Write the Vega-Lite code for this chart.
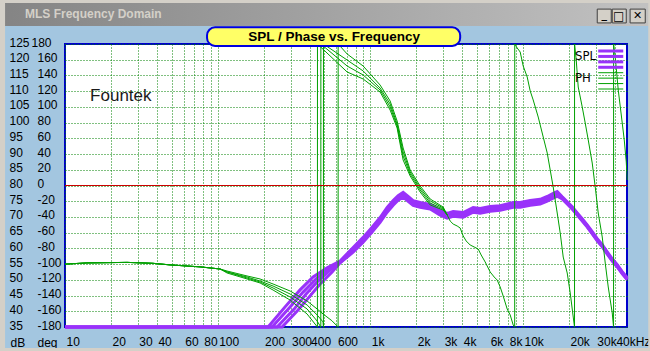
{
 "$schema": "https://vega.github.io/schema/vega-lite/v6.json",
 "width": 562,
 "height": 283,
 "autosize": {"type": "none"},
 "padding": {"left": 65, "top": 44, "right": 23, "bottom": 24},
 "background": "#A3C6E0",
 "config": {
  "view": {"fill": "#FFFFFF", "stroke": "#0000CC", "strokeWidth": 2},
  "axis": {"labelFont": "Liberation Sans", "labelFontSize": 12, "labelColor": "#000000", "titleFont": "Liberation Sans", "titleFontSize": 12, "titleFontWeight": "normal", "titleColor": "#000000", "ticks": false, "domain": false},
  "text": {"font": "Liberation Sans"}
 },
 "datasets": {
  "spl": [
   {"f": 10, "S1": 35, "S2": 35, "S3": 35, "S4": 35},
   {"f": 213.9, "S1": 35}, {"f": 227.2, "S2": 35}, {"f": 245.1, "S3": 35}, {"f": 264.2, "S4": 35},
   {"f": 276.5, "S1": 41.4}, {"f": 298.2, "S2": 41.4}, {"f": 316.8, "S3": 40.7}, {"f": 336.4, "S4": 40.4},
   {"f": 346.7, "S1": 46.8}, {"f": 362.7, "S2": 46.1}, {"f": 379.6, "S3": 45.5}, {"f": 403.2, "S4": 44.9},
   {"f": 421.9, "S1": 50.9}, {"f": 441.5, "S2": 50.3}, {"f": 454.9, "S3": 49.6}, {"f": 468.8, "S4": 48.7},
   {"f": 521.1, "S1": 53.8}, {"f": 529, "S2": 53.4}, {"f": 545.2, "S3": 53.1}, {"f": 561.9, "S4": 52.5},
   {"f": 634, "S1": 56.0, "S2": 55.7, "S3": 55.5, "S4": 55.4},
   {"f": 771.5, "S1": 60.3, "S2": 59.8, "S3": 59.3, "S4": 58.8},
   {"f": 897, "S1": 63.5, "S2": 63.0, "S3": 62.5, "S4": 62.0},
   {"f": 1027, "S1": 66.7, "S2": 66.2, "S3": 65.7, "S4": 65.2},
   {"f": 1159, "S1": 69.8, "S2": 69.3, "S3": 68.8, "S4": 68.3},
   {"f": 1289, "S1": 73.0, "S2": 72.5, "S3": 72.0, "S4": 71.5},
   {"f": 1411, "S1": 75.2, "S2": 74.7, "S3": 74.2, "S4": 73.7},
   {"f": 1521, "S1": 76.8, "S2": 76.3, "S3": 75.8, "S4": 75.3},
   {"f": 1640, "S1": 77.8, "S2": 77.3, "S3": 76.8, "S4": 76.3},
   {"f": 1769, "S1": 76.5, "S2": 76.0, "S3": 75.5, "S4": 75.0},
   {"f": 1908, "S1": 75.2, "S2": 74.7, "S3": 74.2, "S4": 73.7},
   {"f": 2120, "S1": 74.6, "S2": 74.1, "S3": 73.6, "S4": 73.1},
   {"f": 2466, "S1": 74.0, "S2": 73.5, "S3": 73.0, "S4": 72.5},
   {"f": 2867, "S1": 72.1, "S2": 71.6, "S3": 71.1, "S4": 70.6},
   {"f": 3187, "S1": 71.1, "S2": 70.6, "S3": 70.1, "S4": 69.6},
   {"f": 3488, "S1": 71.7, "S2": 71.2, "S3": 70.7, "S4": 70.2},
   {"f": 4057, "S1": 71.4, "S2": 70.9, "S3": 70.4, "S4": 69.9},
   {"f": 4718, "S1": 73.0, "S2": 72.5, "S3": 72.0, "S4": 71.5},
   {"f": 5242, "S1": 72.7, "S2": 72.2, "S3": 71.7, "S4": 71.2},
   {"f": 6095, "S1": 73.3, "S2": 72.8, "S3": 72.3, "S4": 71.8},
   {"f": 7089, "S1": 73.6, "S2": 73.1, "S3": 72.6, "S4": 72.1},
   {"f": 8627, "S1": 74.6, "S2": 74.1, "S3": 73.6, "S4": 73.1},
   {"f": 9587, "S1": 74.6, "S2": 74.1, "S3": 73.6, "S4": 73.1},
   {"f": 11150, "S1": 75.2, "S2": 74.7, "S3": 74.2, "S4": 73.7},
   {"f": 12960, "S1": 75.6, "S2": 75.1, "S3": 74.6, "S4": 74.1},
   {"f": 14410, "S1": 76.5, "S2": 76.0, "S3": 75.5, "S4": 75.0},
   {"f": 15770, "S1": 77.5, "S2": 77.0, "S3": 76.5, "S4": 76.0},
   {"f": 16755, "S1": 78.1, "S2": 77.6, "S3": 77.1, "S4": 76.6},
   {"f": 18070, "S1": 76.4, "S2": 76.1, "S3": 75.9, "S4": 75.7},
   {"f": 19480, "S1": 74.8, "S2": 74.5, "S3": 74.3, "S4": 74.1},
   {"f": 21010, "S1": 73.2, "S2": 72.9, "S3": 72.7, "S4": 72.5},
   {"f": 22660, "S1": 71.3, "S2": 71.0, "S3": 70.8, "S4": 70.6},
   {"f": 24430, "S1": 69.4, "S2": 69.1, "S3": 68.9, "S4": 68.7},
   {"f": 26340, "S1": 67.5, "S2": 67.2, "S3": 67.0, "S4": 66.8},
   {"f": 28410, "S1": 65.3, "S2": 65.0, "S3": 64.8, "S4": 64.6},
   {"f": 30640, "S1": 63.1, "S2": 62.8, "S3": 62.6, "S4": 62.4},
   {"f": 33040, "S1": 61.2, "S2": 60.9, "S3": 60.7, "S4": 60.5},
   {"f": 35630, "S1": 58.9, "S2": 58.6, "S3": 58.4, "S4": 58.2},
   {"f": 38420, "S1": 56.7, "S2": 56.4, "S3": 56.2, "S4": 56.0},
   {"f": 41430, "S1": 54.8, "S2": 54.5, "S3": 54.3, "S4": 54.1},
   {"f": 44680, "S1": 52.6, "S2": 52.3, "S3": 52.1, "S4": 51.9},
   {"f": 48180, "S1": 50.7, "S2": 50.4, "S3": 50.2, "S4": 50.0}
  ],
  "phase": [
   {"s": "A", "f": 10, "p": -100}, {"s": "A", "f": 13.9, "p": -98.5}, {"s": "A", "f": 25.5, "p": -97.8}, {"s": "A", "f": 37.7, "p": -99}, {"s": "A", "f": 48.8, "p": -101}, {"s": "A", "f": 76.7, "p": -103.5}, {"s": "A", "f": 103.7, "p": -106.2}, {"s": "A", "f": 115.2, "p": -108.8}, {"s": "A", "f": 155.8, "p": -115.1}, {"s": "A", "f": 189.6, "p": -118.9}, {"s": "A", "f": 230.7, "p": -125.3}, {"s": "A", "f": 298.2, "p": -134.2}, {"s": "A", "f": 385.3, "p": -146.9}, {"s": "A", "f": 448.2, "p": -157.1}, {"s": "A", "f": 490.6, "p": -163.5}, {"s": "A", "f": 560, "p": -172}, {"s": "A", "f": 615, "p": -180}, {"s": "A", "f": 615.5, "p": 180}, {"s": "A", "f": 704.7, "p": 167.3}, {"s": "A", "f": 897, "p": 152}, {"s": "A", "f": 1159, "p": 127.8}, {"s": "A", "f": 1348, "p": 107.5}, {"s": "A", "f": 1498, "p": 82}, {"s": "A", "f": 1640, "p": 47.7}, {"s": "A", "f": 1823, "p": 19.7}, {"s": "A", "f": 2120, "p": -0.6}, {"s": "A", "f": 2466, "p": -17.2}, {"s": "A", "f": 3000, "p": -27.4}, {"s": "A", "f": 3187, "p": -37.5},
   {"s": "B", "f": 10, "p": -100}, {"s": "B", "f": 13.9, "p": -98.5}, {"s": "B", "f": 25.5, "p": -97.8}, {"s": "B", "f": 37.7, "p": -99}, {"s": "B", "f": 48.8, "p": -101}, {"s": "B", "f": 76.7, "p": -103.5}, {"s": "B", "f": 103.7, "p": -106.2}, {"s": "B", "f": 115.2, "p": -110}, {"s": "B", "f": 155.8, "p": -116.4}, {"s": "B", "f": 189.6, "p": -121.5}, {"s": "B", "f": 230.7, "p": -127.9}, {"s": "B", "f": 298.2, "p": -138}, {"s": "B", "f": 385.3, "p": -152}, {"s": "B", "f": 448.2, "p": -164.7}, {"s": "B", "f": 490.6, "p": -173.6}, {"s": "B", "f": 492.9, "p": -180}, {"s": "B", "f": 493.3, "p": 180}, {"s": "B", "f": 704.7, "p": 159.6}, {"s": "B", "f": 897, "p": 145.7}, {"s": "B", "f": 1159, "p": 124}, {"s": "B", "f": 1348, "p": 103.7}, {"s": "B", "f": 1498, "p": 78.2}, {"s": "B", "f": 1640, "p": 42.6}, {"s": "B", "f": 1823, "p": 17.2}, {"s": "B", "f": 2120, "p": -3.2}, {"s": "B", "f": 2466, "p": -19.7}, {"s": "B", "f": 3000, "p": -28.6}, {"s": "B", "f": 3187, "p": -37.5},
   {"s": "C", "f": 10, "p": -100}, {"s": "C", "f": 13.9, "p": -98.5}, {"s": "C", "f": 25.5, "p": -97.8}, {"s": "C", "f": 37.7, "p": -99}, {"s": "C", "f": 48.8, "p": -101}, {"s": "C", "f": 76.7, "p": -103.5}, {"s": "C", "f": 103.7, "p": -106.2}, {"s": "C", "f": 115.2, "p": -110}, {"s": "C", "f": 155.8, "p": -117.7}, {"s": "C", "f": 189.6, "p": -122.8}, {"s": "C", "f": 230.7, "p": -130.4}, {"s": "C", "f": 298.2, "p": -141.8}, {"s": "C", "f": 385.3, "p": -157.1}, {"s": "C", "f": 448.2, "p": -172.4}, {"s": "C", "f": 473.8, "p": -180}, {"s": "C", "f": 474.2, "p": 180}, {"s": "C", "f": 704.7, "p": 152}, {"s": "C", "f": 897, "p": 140.6}, {"s": "C", "f": 1159, "p": 121.5}, {"s": "C", "f": 1348, "p": 99.9}, {"s": "C", "f": 1498, "p": 75.7}, {"s": "C", "f": 1640, "p": 37.5}, {"s": "C", "f": 1823, "p": 14.6}, {"s": "C", "f": 2120, "p": -5.7}, {"s": "C", "f": 2466, "p": -22.3}, {"s": "C", "f": 3000, "p": -29.9}, {"s": "C", "f": 3187, "p": -37.5},
   {"s": "D", "f": 10, "p": -100}, {"s": "D", "f": 13.9, "p": -98.5}, {"s": "D", "f": 25.5, "p": -97.8}, {"s": "D", "f": 37.7, "p": -99}, {"s": "D", "f": 48.8, "p": -101}, {"s": "D", "f": 76.7, "p": -103.5}, {"s": "D", "f": 103.7, "p": -106.2}, {"s": "D", "f": 115.2, "p": -111.3}, {"s": "D", "f": 155.8, "p": -118.9}, {"s": "D", "f": 189.6, "p": -124}, {"s": "D", "f": 230.7, "p": -133}, {"s": "D", "f": 298.2, "p": -145.7}, {"s": "D", "f": 385.3, "p": -163.5}, {"s": "D", "f": 450.2, "p": -180}, {"s": "D", "f": 450.6, "p": 180}, {"s": "D", "f": 704.7, "p": 144.4}, {"s": "D", "f": 897, "p": 135.5}, {"s": "D", "f": 1159, "p": 118.9}, {"s": "D", "f": 1348, "p": 96}, {"s": "D", "f": 1498, "p": 73.1}, {"s": "D", "f": 1640, "p": 32.4}, {"s": "D", "f": 1823, "p": 12.1}, {"s": "D", "f": 2120, "p": -8.3}, {"s": "D", "f": 2466, "p": -24.8}, {"s": "D", "f": 3000, "p": -31.2}, {"s": "D", "f": 3187, "p": -37.5},
   {"s": "E", "f": 3187, "p": -37.5}, {"s": "E", "f": 3334, "p": -45.2}, {"s": "E", "f": 3488, "p": -49}, {"s": "E", "f": 3706, "p": -51.5}, {"s": "E", "f": 3877, "p": -54.1}, {"s": "E", "f": 4057, "p": -64.2}, {"s": "E", "f": 4245, "p": -70.6}, {"s": "E", "f": 4508, "p": -75.7}, {"s": "E", "f": 4788, "p": -78.2}, {"s": "E", "f": 5087, "p": -80.8}, {"s": "E", "f": 5321, "p": -88.4}, {"s": "E", "f": 5653, "p": -97.3}, {"s": "E", "f": 6095, "p": -110}, {"s": "E", "f": 6477, "p": -116.4}, {"s": "E", "f": 6773, "p": -120.2}, {"s": "E", "f": 7089, "p": -129.1}, {"s": "E", "f": 7418, "p": -140.6}, {"s": "E", "f": 7877, "p": -157.1}, {"s": "E", "f": 8245, "p": -164.7}, {"s": "E", "f": 8627, "p": -177.5}, {"s": "E", "f": 8822, "p": -180}, {"s": "E", "f": 8829, "p": 180}, {"s": "E", "f": 9162, "p": 174.9}, {"s": "E", "f": 9587, "p": 169.8}, {"s": "E", "f": 10030, "p": 152}, {"s": "E", "f": 10655, "p": 138}, {"s": "E", "f": 11150, "p": 120.2}, {"s": "E", "f": 11664, "p": 108.8}, {"s": "E", "f": 12578, "p": 87.1}, {"s": "E", "f": 13565, "p": 61.7}, {"s": "E", "f": 14410, "p": 41.3}, {"s": "E", "f": 15075, "p": 19.7}, {"s": "E", "f": 15770, "p": -1.9}, {"s": "E", "f": 16755, "p": -35}, {"s": "E", "f": 17530, "p": -60.4}, {"s": "E", "f": 18340, "p": -91}, {"s": "E", "f": 19480, "p": -111.3}, {"s": "E", "f": 20390, "p": -136.8}, {"s": "E", "f": 21330, "p": -167.3}, {"s": "E", "f": 21750, "p": -180}, {"s": "E", "f": 21770, "p": 180}, {"s": "E", "f": 22320, "p": 159.6}, {"s": "E", "f": 23000, "p": 125.3}, {"s": "E", "f": 24430, "p": 99.9}, {"s": "E", "f": 25560, "p": 79.5}, {"s": "E", "f": 26750, "p": 57.9}, {"s": "E", "f": 28410, "p": 28.6}, {"s": "E", "f": 29730, "p": -1.9}, {"s": "E", "f": 31100, "p": -35}, {"s": "E", "f": 33040, "p": -65.5}, {"s": "E", "f": 34570, "p": -98.7}, {"s": "E", "f": 36170, "p": -129.1}, {"s": "E", "f": 38420, "p": -162.2}, {"s": "E", "f": 39190, "p": -180}, {"s": "E", "f": 39220, "p": 180}, {"s": "E", "f": 40200, "p": 163.5}, {"s": "E", "f": 42060, "p": 121.5}, {"s": "E", "f": 44680, "p": 79.5}, {"s": "E", "f": 46050, "p": 57.9}, {"s": "E", "f": 47470, "p": 29.9}, {"s": "E", "f": 48180, "p": 7}
  ],
  "leg": [
   {"s": "S1"}, {"s": "S2", "t": "SPL"}, {"s": "S3"}, {"s": "S4"},
   {"s": "P1"}, {"s": "P2", "t": "PH"}, {"s": "P3"}, {"s": "P4"}
  ]
 },
 "layer": [
  {
   "layer": [
    {
     "data": {"values": [{}]},
     "mark": {"type": "rect", "fill": "#D4D0C8"},
     "encoding": {"x": {"datum": 2}, "x2": {"datum": 100000}, "y": {"datum": 145, "axis": null, "scale": {"domain": [35, 125], "nice": false, "zero": false}}, "y2": {"datum": 137.9}}
    },
    {
     "data": {"values": [{}]},
     "mark": {"type": "rect", "fill": {"gradient": "linear", "x1": 0, "y1": 0, "x2": 1, "y2": 0, "stops": [{"offset": 0, "color": "#808080"}, {"offset": 1, "color": "#C4C4C4"}]}},
     "encoding": {"x": {"datum": 2}, "x2": {"datum": 100000}, "y": {"datum": 138.0, "axis": null}, "y2": {"datum": 130.7}}
    },
    {
     "data": {"values": [{}]},
     "mark": {"type": "rect", "fill": "#D4D0C8"},
     "encoding": {"x": {"datum": 2}, "x2": {"datum": 4.05}, "y": {"datum": 138.0, "axis": null}, "y2": {"datum": 20}}
    },
    {
     "data": {"values": [{}]},
     "mark": {"type": "rect", "fill": "#D4D0C8"},
     "encoding": {"x": {"datum": 66130}, "x2": {"datum": 100000}, "y": {"datum": 138.0, "axis": null}, "y2": {"datum": 20}}
    },
    {
     "data": {"values": [{}]},
     "mark": {"type": "rect", "fill": "#D4D0C8"},
     "encoding": {"x": {"datum": 2}, "x2": {"datum": 100000}, "y": {"datum": 28.3, "axis": null}, "y2": {"datum": 20}}
    },
    {
     "data": {"values": [{}]},
     "mark": {"type": "text", "align": "left", "baseline": "middle", "fontWeight": "bold", "fontSize": 12, "font": "Liberation Sans", "fill": "#D4D0C8"},
     "encoding": {"x": {"datum": 5.47}, "y": {"datum": 134.4, "axis": null}, "text": {"value": "MLS Frequency Domain"}}
    },
    {
     "data": {"values": [{}]},
     "mark": {"type": "rect", "fill": "#D4D0C8", "stroke": "#404040", "strokeWidth": 1},
     "encoding": {"x": {"datum": 30640}, "x2": {"datum": 37840}, "y": {"datum": 136.1, "axis": null}, "y2": {"datum": 131.7}}
    },
    {
     "data": {"values": [{}]},
     "mark": {"type": "rect", "fill": "#D4D0C8", "stroke": "#404040", "strokeWidth": 1},
     "encoding": {"x": {"datum": 38420}, "x2": {"datum": 47470}, "y": {"datum": 136.1, "axis": null}, "y2": {"datum": 131.7}}
    },
    {
     "data": {"values": [{}]},
     "mark": {"type": "rect", "fill": "#D4D0C8", "stroke": "#404040", "strokeWidth": 1},
     "encoding": {"x": {"datum": 50300}, "x2": {"datum": 63210}, "y": {"datum": 136.1, "axis": null}, "y2": {"datum": 131.7}}
    },
    {
     "data": {"values": [{}]},
     "mark": {"type": "text", "align": "center", "baseline": "middle", "fontWeight": "bold", "fontSize": 11, "font": "DejaVu Sans", "fill": "#000000"},
     "encoding": {"x": {"datum": 34050}, "y": {"datum": 134.3, "axis": null}, "text": {"value": "_"}}
    },
    {
     "data": {"values": [{}]},
     "mark": {"type": "text", "align": "center", "baseline": "middle", "fontSize": 12, "font": "DejaVu Sans", "fill": "#000000"},
     "encoding": {"x": {"datum": 42350}, "y": {"datum": 133.9, "axis": null}, "text": {"value": "□"}}
    },
    {
     "data": {"values": [{}]},
     "mark": {"type": "text", "align": "center", "baseline": "middle", "fontSize": 11, "font": "DejaVu Sans", "fill": "#000000"},
     "encoding": {"x": {"datum": 56400}, "y": {"datum": 133.9, "axis": null}, "text": {"value": "✕"}}
    },
    {
     "data": {"values": [{}]},
     "mark": {"type": "text", "align": "left", "baseline": "middle", "fontSize": 17, "fill": "#1A1A1A"},
     "encoding": {"x": {"datum": 14.6}, "y": {"datum": 108.4, "axis": null}, "text": {"value": "Fountek"}}
    }
   ]
  },
  {
   "layer": [
    {
     "data": {"name": "spl"},
     "transform": [
      {"fold": ["S1", "S2", "S3", "S4"], "as": ["s", "v"]},
      {"filter": "isValid(datum.v)"}
     ],
     "mark": {"type": "line", "color": "#9932FA", "strokeWidth": 3},
     "encoding": {
      "x": {"field": "f", "type": "quantitative", "title": null,
       "scale": {"type": "log", "domain": [10, 48000], "nice": false},
       "axis": {
        "values": [10, 20, 30, 40, 50, 60, 70, 80, 90, 100, 200, 300, 400, 500, 600, 700, 800, 900, 1000, 2000, 3000, 4000, 5000, 6000, 7000, 8000, 9000, 10000, 20000, 30000, 40000],
        "grid": true, "gridColor": "#008000", "gridDash": [1, 2], "gridOpacity": 1,
        "labelAlign": "left", "labelBaseline": "alphabetic", "labelPadding": 18, "labelOffset": 1,
        "labelOverlap": false, "labelFlush": false,
        "labelExpr": "indexof([10,20,30,40,60,80,100,200,300,400,600], datum.value) >= 0 ? '' + datum.value : indexof([1000,2000,3000,4000,6000,8000,10000,20000,30000], datum.value) >= 0 ? (datum.value / 1000) + 'k' : datum.value == 40000 ? '40kHz' : ''"
       }
      },
      "y": {"field": "v", "type": "quantitative",
       "scale": {"domain": [35, 125], "nice": false, "zero": false},
       "axis": {
        "orient": "left",
        "values": [35, 40, 45, 50, 55, 60, 65, 70, 75, 80, 85, 90, 95, 100, 105, 110, 115, 120, 125],
        "grid": true, "gridColor": "#008000", "gridDash": [1, 2], "gridOpacity": 1,
        "labelAlign": "left", "labelBaseline": "middle", "labelPadding": 56, "labelOffset": -2,
        "labelOverlap": false, "labelFlush": false, "labelExpr": "'' + datum.value",
        "title": "dB", "titleAngle": 0, "titleX": -55, "titleY": 302, "titleAlign": "left", "titleBaseline": "alphabetic"
       }
      },
      "detail": {"field": "s"}
     }
    }
   ]
  },
  {
   "layer": [
    {
     "data": {"name": "phase"},
     "mark": {"type": "line", "color": "#00A000", "strokeWidth": 1},
     "encoding": {
      "x": {"field": "f", "type": "quantitative", "title": null},
      "y": {"field": "p", "type": "quantitative",
       "scale": {"domain": [-180, 180], "nice": false, "zero": false},
       "axis": {
        "orient": "left",
        "values": [-180, -160, -140, -120, -100, -80, -60, -40, -20, 0, 20, 40, 60, 80, 100, 120, 140, 160, 180],
        "grid": false,
        "labelAlign": "left", "labelBaseline": "middle",
        "labelPadding": {"condition": {"test": "datum.value == 180", "value": 34}, "value": 28},
        "labelOffset": -2,
        "labelOverlap": false, "labelFlush": false, "labelExpr": "'' + datum.value",
        "title": "deg", "titleAngle": 0, "titleX": -28, "titleY": 302, "titleAlign": "left", "titleBaseline": "alphabetic"
       }
      },
      "detail": {"field": "s"}
     }
    }
   ]
  },
  {
   "layer": [
    {
     "data": {"values": [{}]},
     "mark": {"type": "rule", "stroke": "#CC0000", "strokeWidth": 1},
     "encoding": {"y": {"datum": 80, "axis": null, "scale": {"domain": [35, 125], "nice": false, "zero": false}}}
    },
    {
     "data": {"values": [{}]},
     "mark": {"type": "rect", "fill": "#FFFF66", "stroke": "#0000E0", "strokeWidth": 2, "cornerRadius": 8},
     "encoding": {"x": {"datum": 85.2}, "x2": {"datum": 3877}, "y": {"datum": 130.3, "axis": null}, "y2": {"datum": 124.4}}
    },
    {
     "data": {"values": [{}]},
     "mark": {"type": "text", "align": "center", "baseline": "middle", "fontWeight": "bold", "fontSize": 13.5, "fill": "#000000"},
     "encoding": {"x": {"datum": 579}, "y": {"datum": 127.3, "axis": null}, "text": {"value": "SPL / Phase vs. Frequency"}}
    }
   ]
  },
  {
   "layer": [
    {
     "data": {"name": "leg"},
     "transform": [{"filter": {"field": "s", "oneOf": ["S1", "S2", "S3", "S4"]}}],
     "mark": {"type": "rule", "color": "#9932FA", "strokeWidth": 3},
     "encoding": {
      "x": {"datum": 31100}, "x2": {"datum": 45350},
      "y": {"field": "s", "type": "nominal", "axis": null,
       "scale": {"type": "point", "domain": ["S1", "S2", "S3", "S4", "P1", "P2", "P3", "P4"], "range": [7, 45], "padding": 0}}
     }
    },
    {
     "data": {"name": "leg"},
     "transform": [{"filter": {"field": "s", "oneOf": ["P1", "P2", "P3", "P4"]}}],
     "mark": {"type": "rule", "color": "#00A000", "strokeWidth": 1},
     "encoding": {
      "x": {"datum": 31100}, "x2": {"datum": 45350},
      "y": {"field": "s", "type": "nominal", "axis": null}
     }
    },
    {
     "data": {"name": "leg"},
     "transform": [{"filter": "isValid(datum.t)"}],
     "mark": {"type": "text", "align": "left", "baseline": "middle", "fontSize": 13, "font": "Liberation Sans Narrow, DejaVu Sans Condensed, Liberation Sans", "fill": "#000000"},
     "encoding": {
      "x": {"datum": 21900},
      "y": {"field": "s", "type": "nominal", "axis": null},
      "text": {"field": "t"}
     }
    }
   ]
  }
 ],
 "resolve": {"scale": {"y": "independent"}}
}
